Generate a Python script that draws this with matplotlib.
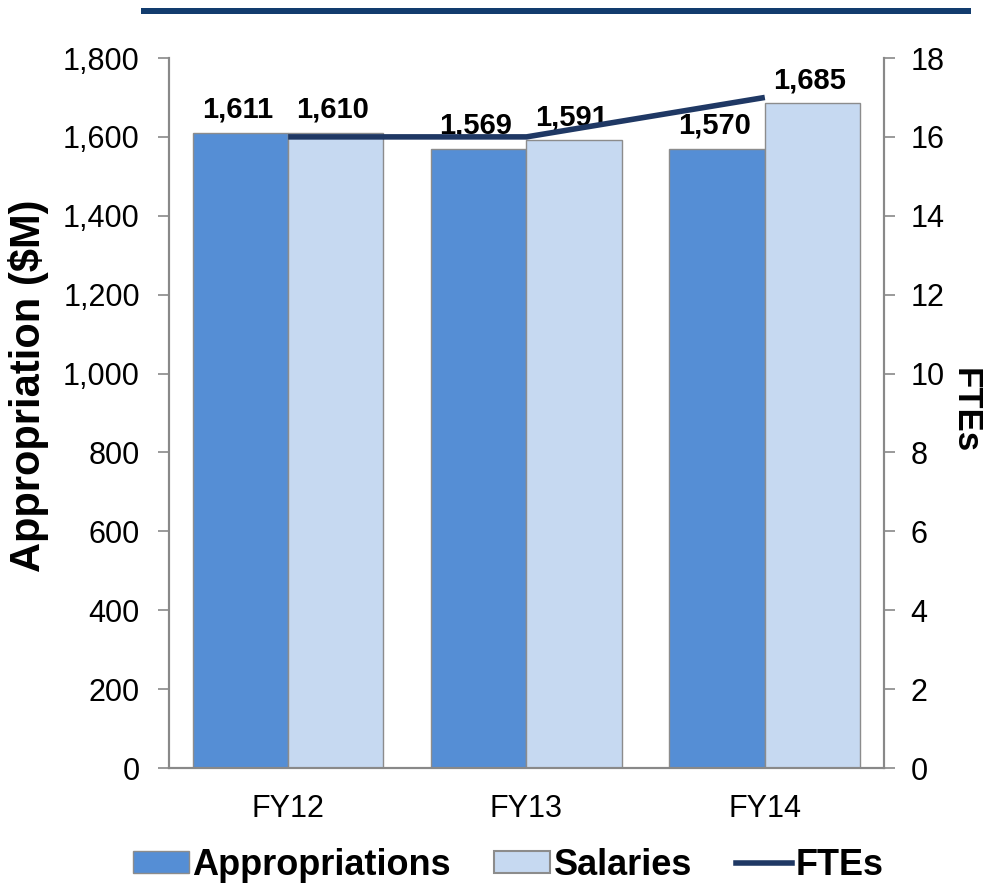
import matplotlib
matplotlib.use("Agg")
import matplotlib.pyplot as plt
import numpy as np
from matplotlib.ticker import FuncFormatter, MultipleLocator
from matplotlib.patches import Rectangle, Patch
from matplotlib.lines import Line2D

plt.rcParams['font.family'] = ['Liberation Sans', 'DejaVu Sans']

categories = ["FY12", "FY13", "FY14"]
appropriations = [1611, 1569, 1570]
salaries = [1610, 1591, 1685]
ftes = [16, 16, 17]

c_app = "#558ED5"
c_sal = "#C6D9F1"
c_line = "#1F3864"
c_edge = "#8C8C8C"
c_spine = "#898989"

fig = plt.figure(figsize=(10.03, 8.88), dpi=100)
ax = fig.add_axes([169/1003, 1 - 768/888, 715/1003, 710/888])
ax2 = ax.twinx()

x = np.arange(len(categories))
w = 0.4
b1 = ax.bar(x - w/2, appropriations, width=w, color=c_app, edgecolor=c_edge, linewidth=1.0, zorder=2)
b2 = ax.bar(x + w/2, salaries, width=w, color=c_sal, edgecolor=c_edge, linewidth=1.0, zorder=2)

for rects, vals in ((b1, appropriations), (b2, salaries)):
    for r, v in zip(rects, vals):
        ax.annotate(f"{v:,}", (r.get_x() + r.get_width()/2, v), xytext=(-2, 11),
                    textcoords="offset points", ha="center", va="baseline",
                    fontsize=21, fontweight="bold", zorder=5)

ax2.plot(x, ftes, color=c_line, linewidth=4, solid_capstyle="butt", zorder=3)

ax.set_xlim(-0.5, 2.5)
ax.set_ylim(0, 1800)
ax2.set_ylim(0, 18)
ax.yaxis.set_major_locator(MultipleLocator(200))
ax2.yaxis.set_major_locator(MultipleLocator(2))
ax.yaxis.set_major_formatter(FuncFormatter(lambda v, p: f"{int(v):,}"))

ax.set_xticks(x)
ax.set_xticklabels(categories, fontsize=22)
ax.tick_params(axis="x", length=0, pad=19)
ax.tick_params(axis="y", labelsize=22, length=8, width=1.2, color=c_spine, pad=13, direction="out")
ax2.tick_params(axis="y", labelsize=22, length=8, width=1.2, color=c_spine, pad=11, direction="out")

for a in (ax, ax2):
    a.spines["top"].set_visible(False)
    for s in ("left", "right", "bottom"):
        a.spines[s].set_color(c_spine)
        a.spines[s].set_linewidth(1.5)

ax.set_ylabel("Appropriation ($M)", fontsize=30, fontweight="bold")
ax.yaxis.set_label_coords(-0.168, 0.538)
ax2.set_ylabel("FTEs", fontsize=25, fontweight="bold", rotation=-90, va="center")
ax2.yaxis.set_label_coords(1.114, 0.504)

# top decorative rule
fig.patches.append(Rectangle((141/1003, 1 - 14/888), (971 - 141)/1003, 6/888,
                             transform=fig.transFigure, facecolor="#123C6E", edgecolor="none"))

handles = [Patch(facecolor=c_app, edgecolor=c_edge, linewidth=1.0),
           Patch(facecolor=c_sal, edgecolor=c_edge, linewidth=1.5),
           Line2D([], [], color=c_line, linewidth=4)]
fig.legend(handles, ["Appropriations", "Salaries", "FTEs"], loc="center",
           bbox_to_anchor=(508/1003, 1 - 865/888), ncol=3, frameon=False,
           prop={"size": 26, "weight": "bold"}, handlelength=1.55, handleheight=0.55,
           handletextpad=0.1, columnspacing=1.2, borderpad=0)

fig.savefig("out.png", dpi=100)
